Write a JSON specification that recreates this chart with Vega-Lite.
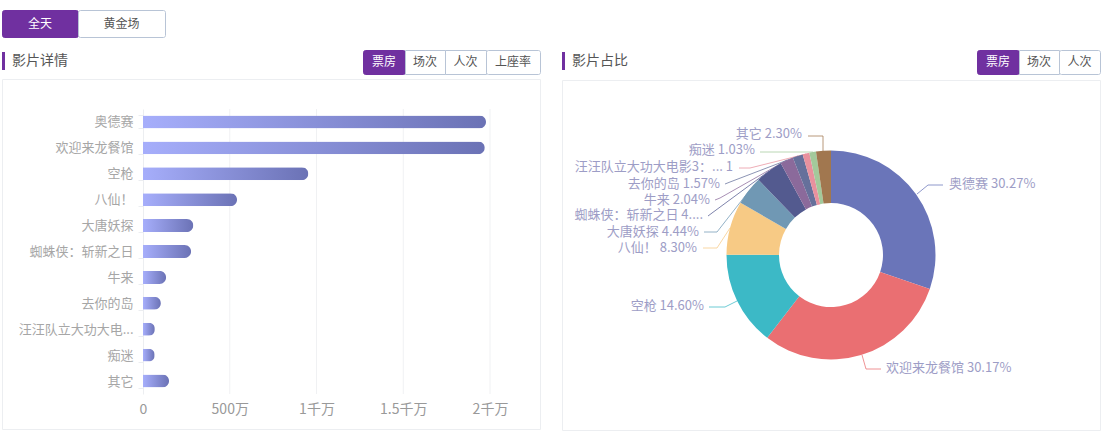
{
  "$schema": "https://vega.github.io/schema/vega-lite/v6.json",
  "background": "white",
  "padding": {"left": 1, "top": 9, "right": 0, "bottom": 0},
  "config": {
    "font": "Noto Sans CJK SC",
    "view": {"stroke": null},
    "text": {"font": "Noto Sans CJK SC"}
  },
  "datasets": {
    "films": [
      {"rank": 1, "film": "奥德赛", "axis_name": "奥德赛", "box_office": 19770000, "label": "奥德赛 30.27%"},
      {"rank": 2, "film": "欢迎来龙餐馆", "axis_name": "欢迎来龙餐馆", "box_office": 19700000, "label": "欢迎来龙餐馆 30.17%"},
      {"rank": 3, "film": "空枪", "axis_name": "空枪", "box_office": 9530000, "label": "空枪 14.60%"},
      {"rank": 4, "film": "八仙！", "axis_name": "八仙！", "box_office": 5420000, "label": "八仙！ 8.30%"},
      {"rank": 5, "film": "大唐妖探", "axis_name": "大唐妖探", "box_office": 2900000, "label": "大唐妖探 4.44%"},
      {"rank": 6, "film": "蜘蛛侠：斩新之日", "axis_name": "蜘蛛侠：斩新之日", "box_office": 2770000, "label": "蜘蛛侠：斩新之日 4...."},
      {"rank": 7, "film": "牛来", "axis_name": "牛来", "box_office": 1330000, "label": "牛来 2.04%"},
      {"rank": 8, "film": "去你的岛", "axis_name": "去你的岛", "box_office": 1030000, "label": "去你的岛 1.57%"},
      {"rank": 9, "film": "汪汪队立大功大电影3", "axis_name": "汪汪队立大功大电...", "box_office": 680000, "label": "汪汪队立大功大电影3：... 1"},
      {"rank": 10, "film": "痴迷", "axis_name": "痴迷", "box_office": 670000, "label": "痴迷 1.03%"},
      {"rank": 11, "film": "其它", "axis_name": "其它", "box_office": 1500000, "label": "其它 2.30%"}
    ],
    "leaders": [
      {"film": "奥德赛", "seq": 1}, {"film": "奥德赛", "seq": 2}, {"film": "奥德赛", "seq": 3},
      {"film": "欢迎来龙餐馆", "seq": 4}, {"film": "欢迎来龙餐馆", "seq": 5}, {"film": "欢迎来龙餐馆", "seq": 6},
      {"film": "空枪", "seq": 7}, {"film": "空枪", "seq": 8}, {"film": "空枪", "seq": 9},
      {"film": "八仙！", "seq": 10}, {"film": "八仙！", "seq": 11}, {"film": "八仙！", "seq": 12},
      {"film": "大唐妖探", "seq": 13}, {"film": "大唐妖探", "seq": 14}, {"film": "大唐妖探", "seq": 15},
      {"film": "蜘蛛侠：斩新之日", "seq": 16}, {"film": "蜘蛛侠：斩新之日", "seq": 17}, {"film": "蜘蛛侠：斩新之日", "seq": 18},
      {"film": "牛来", "seq": 19}, {"film": "牛来", "seq": 20}, {"film": "牛来", "seq": 21},
      {"film": "去你的岛", "seq": 22}, {"film": "去你的岛", "seq": 23}, {"film": "去你的岛", "seq": 24},
      {"film": "汪汪队立大功大电影3", "seq": 25}, {"film": "汪汪队立大功大电影3", "seq": 26}, {"film": "汪汪队立大功大电影3", "seq": 27},
      {"film": "痴迷", "seq": 28}, {"film": "痴迷", "seq": 29}, {"film": "痴迷", "seq": 30},
      {"film": "其它", "seq": 31}, {"film": "其它", "seq": 32}, {"film": "其它", "seq": 33}
    ],
    "ticks": [{"v": 0}, {"v": 5000000}, {"v": 10000000}, {"v": 15000000}, {"v": 20000000}]
  },
  "spacing": 11,
  "vconcat": [
    {
      "bounds": "flush",
      "spacing": 0,
      "hconcat": [
        {
          "width": 76, "height": 27,
          "view": {"fill": "#7030a0", "stroke": "#7030a0", "cornerRadius": 2},
          "data": {"values": [{"name": "全天"}]},
          "mark": {"type": "text", "fontSize": 12, "color": "white"},
          "encoding": {"text": {"field": "name"}}
        },
        {
          "width": 87, "height": 27,
          "view": {"fill": "white", "stroke": "#b8c4d6", "cornerRadius": 2},
          "data": {"values": [{"name": "黄金场"}]},
          "mark": {"type": "text", "fontSize": 12, "color": "#555555"},
          "encoding": {"text": {"field": "name"}}
        }
      ]
    },
    {
      "spacing": 20,
      "hconcat": [
        {
          "spacing": -3,
          "vconcat": [
            {
              "bounds": "flush",
              "spacing": 0,
              "hconcat": [
                {
                  "width": 361, "height": 24,
                  "data": {"values": [{"title": "影片详情"}]},
                  "layer": [
                    {
                      "mark": {"type": "rect", "color": "#7030a0"},
                      "encoding": {
                        "x": {"field": "title", "type": "nominal", "axis": null, "scale": {"range": [0, 3], "paddingInner": 0, "paddingOuter": 0}},
                        "y": {"field": "title", "type": "nominal", "axis": null, "scale": {"range": [2, 20], "paddingInner": 0, "paddingOuter": 0}}
                      }
                    },
                    {
                      "mark": {"type": "text", "align": "left", "dx": 8.5, "fontSize": 14, "color": "#555555"},
                      "encoding": {
                        "x": {"field": "title", "type": "nominal", "axis": null},
                        "y": {"field": "title", "type": "nominal", "axis": null},
                        "text": {"field": "title"}
                      }
                    }
                  ]
                },
                {
                  "width": 42, "height": 24,
                  "view": {"fill": "#7030a0", "stroke": "#7030a0", "cornerRadius": 2},
                  "data": {"values": [{"name": "票房"}]},
                  "mark": {"type": "text", "fontSize": 12, "color": "white"},
                  "encoding": {"text": {"field": "name"}}
                },
                {
                  "width": 40, "height": 24,
                  "view": {"fill": "white", "stroke": "#b8c4d6"},
                  "data": {"values": [{"name": "场次"}]},
                  "mark": {"type": "text", "fontSize": 12, "color": "#555555"},
                  "encoding": {"text": {"field": "name"}}
                },
                {
                  "width": 41, "height": 24,
                  "view": {"fill": "white", "stroke": "#b8c4d6"},
                  "data": {"values": [{"name": "人次"}]},
                  "mark": {"type": "text", "fontSize": 12, "color": "#555555"},
                  "encoding": {"text": {"field": "name"}}
                },
                {
                  "width": 54, "height": 24,
                  "view": {"fill": "white", "stroke": "#b8c4d6", "cornerRadius": 2},
                  "data": {"values": [{"name": "上座率"}]},
                  "mark": {"type": "text", "fontSize": 12, "color": "#555555"},
                  "encoding": {"text": {"field": "name"}}
                }
              ]
            },
            {
              "width": 538, "height": 350,
              "view": {"fill": "white", "stroke": "#eceef1"},
              "layer": [
                {
                  "data": {"name": "ticks"},
                  "transform": [{"filter": {"field": "v", "gt": 0}}],
                  "mark": {"type": "rule", "color": "#f0f1f3"},
                  "encoding": {
                    "x": {"field": "v", "type": "quantitative", "axis": null, "scale": {"domain": [0, 20000000], "range": [141, 488], "nice": false}},
                    "y": {"datum": 0, "type": "quantitative", "axis": null, "scale": {"domain": [0, 1], "range": [30, 315]}},
                    "y2": {"datum": 1}
                  }
                },
                {
                  "data": {"name": "films"},
                  "mark": {
                    "type": "bar",
                    "cornerRadiusEnd": 6.5,
                    "color": {
                      "gradient": "linear", "x1": 0, "y1": 0, "x2": 1, "y2": 0,
                      "stops": [{"offset": 0, "color": "#a6aefb"}, {"offset": 1, "color": "#6b72b5"}]
                    }
                  },
                  "encoding": {
                    "x": {
                      "field": "box_office", "type": "quantitative",
                      "scale": {"domain": [0, 20000000], "range": [141, 488], "nice": false},
                      "axis": {
                        "title": null, "offset": -32, "domain": false, "ticks": false, "grid": false,
                        "values": [0, 5000000, 10000000, 15000000, 20000000],
                        "labelExpr": "datum.value >= 10000000 ? datum.value / 10000000 + '千万' : datum.value > 0 ? datum.value / 10000 + '万' : '0'",
                        "labelColor": "#999999", "labelFontSize": 14, "labelPadding": 5, "labelFlush": false
                      }
                    },
                    "y": {
                      "field": "axis_name", "type": "nominal", "sort": {"field": "rank"},
                      "scale": {"range": [30, 315], "paddingInner": 0.5, "paddingOuter": 0.25},
                      "axis": {
                        "title": null, "offset": -141, "grid": false, "tickBand": "extent",
                        "domainColor": "#eceef1", "tickColor": "#eceef1", "tickSize": 5,
                        "labelColor": "#a6a6a6", "labelFontSize": 13, "labelPadding": 5, "labelLimit": 140
                      }
                    }
                  }
                }
              ],
              "resolve": {"scale": {"x": "independent", "y": "independent"}}
            }
          ]
        },
        {
          "spacing": 4,
          "vconcat": [
            {
              "bounds": "flush",
              "spacing": 0,
              "hconcat": [
                {
                  "width": 415, "height": 24,
                  "data": {"values": [{"title": "影片占比"}]},
                  "layer": [
                    {
                      "mark": {"type": "rect", "color": "#7030a0"},
                      "encoding": {
                        "x": {"field": "title", "type": "nominal", "axis": null, "scale": {"range": [0, 3], "paddingInner": 0, "paddingOuter": 0}},
                        "y": {"field": "title", "type": "nominal", "axis": null, "scale": {"range": [2, 20], "paddingInner": 0, "paddingOuter": 0}}
                      }
                    },
                    {
                      "mark": {"type": "text", "align": "left", "dx": 8.5, "fontSize": 14, "color": "#555555"},
                      "encoding": {
                        "x": {"field": "title", "type": "nominal", "axis": null},
                        "y": {"field": "title", "type": "nominal", "axis": null},
                        "text": {"field": "title"}
                      }
                    }
                  ]
                },
                {
                  "width": 42, "height": 24,
                  "view": {"fill": "#7030a0", "stroke": "#7030a0", "cornerRadius": 2},
                  "data": {"values": [{"name": "票房"}]},
                  "mark": {"type": "text", "fontSize": 12, "color": "white"},
                  "encoding": {"text": {"field": "name"}}
                },
                {
                  "width": 40, "height": 24,
                  "view": {"fill": "white", "stroke": "#b8c4d6"},
                  "data": {"values": [{"name": "场次"}]},
                  "mark": {"type": "text", "fontSize": 12, "color": "#555555"},
                  "encoding": {"text": {"field": "name"}}
                },
                {
                  "width": 41, "height": 24,
                  "view": {"fill": "white", "stroke": "#b8c4d6", "cornerRadius": 2},
                  "data": {"values": [{"name": "人次"}]},
                  "mark": {"type": "text", "fontSize": 12, "color": "#555555"},
                  "encoding": {"text": {"field": "name"}}
                }
              ]
            },
            {
              "width": 538, "height": 350,
              "view": {"fill": "white", "stroke": "#eceef1"},
              "layer": [
                {
                  "data": {"name": "leaders"},
                  "mark": {"type": "line", "strokeWidth": 1, "opacity": 0.75},
                  "encoding": {
                    "x": {
                      "field": "seq", "type": "quantitative", "axis": null,
                      "scale": {
                        "domain": [1,2,3,4,5,6,7,8,9,10,11,12,13,14,15,16,17,18,19,20,21,22,23,24,25,26,27,28,29,30,31,32,33],
                        "range": [355,366,381,300,304,319,175,163,147,168,155,141,187,155,142,207,150,146,225,158,153,236,168,163,244,188,177,251,215,198,261,261,246],
                        "nice": false, "zero": false
                      }
                    },
                    "y": {
                      "field": "seq", "type": "quantitative", "axis": null,
                      "scale": {
                        "domain": [1,2,3,4,5,6,7,8,9,10,11,12,13,14,15,16,17,18,19,20,21,22,23,24,25,26,27,28,29,30,31,32,33],
                        "range": [114,105,105,275,289,289,221,227,227,148,168,168,111,152,152,91,133,136,80,118,120,76,102,104,74,88,88,72,72,72,71,56,56],
                        "nice": false, "zero": false
                      }
                    },
                    "order": {"field": "seq"},
                    "color": {"field": "film", "type": "nominal", "legend": null}
                  }
                },
                {
                  "data": {"name": "films"},
                  "mark": {"type": "arc", "radius": 104.5, "innerRadius": 52},
                  "encoding": {
                    "theta": {"field": "box_office", "type": "quantitative"},
                    "order": {"field": "rank"},
                    "color": {
                      "field": "film", "type": "nominal", "legend": null,
                      "scale": {
                        "domain": ["奥德赛", "欢迎来龙餐馆", "空枪", "八仙！", "大唐妖探", "蜘蛛侠：斩新之日", "牛来", "去你的岛", "汪汪队立大功大电影3", "痴迷", "其它"],
                        "range": ["#6a75b9", "#ea6f72", "#3cb9c6", "#f7ca85", "#7098b4", "#535a8f", "#8b6a9b", "#66709b", "#e8919e", "#a3c99b", "#a1774f"]
                      }
                    }
                  }
                },
                {
                  "data": {"name": "films"},
                  "transform": [{"filter": {"field": "rank", "gte": 3}}],
                  "mark": {"type": "text", "align": "right", "fontSize": 13, "color": "#9d9dc6"},
                  "encoding": {
                    "x": {
                      "field": "rank", "type": "quantitative", "axis": null,
                      "scale": {"domain": [3,4,5,6,7,8,9,10,11], "range": [142,135,137,141,148,158,171,193,240], "nice": false, "zero": false}
                    },
                    "y": {
                      "field": "rank", "type": "quantitative", "axis": null,
                      "scale": {"domain": [3,4,5,6,7,8,9,10,11], "range": [226,168,152,135,120,104,87,70,54], "nice": false, "zero": false}
                    },
                    "text": {"field": "label"}
                  }
                },
                {
                  "data": {"name": "films"},
                  "transform": [{"filter": {"field": "rank", "lte": 2}}],
                  "mark": {"type": "text", "align": "left", "fontSize": 13, "color": "#9d9dc6"},
                  "encoding": {
                    "x": {
                      "field": "rank", "type": "quantitative", "axis": null,
                      "scale": {"domain": [1, 2], "range": [387, 324], "nice": false, "zero": false}
                    },
                    "y": {
                      "field": "rank", "type": "quantitative", "axis": null,
                      "scale": {"domain": [1, 2], "range": [104, 288], "nice": false, "zero": false}
                    },
                    "text": {"field": "label"}
                  }
                }
              ],
              "resolve": {"scale": {"x": "independent", "y": "independent"}}
            }
          ]
        }
      ]
    }
  ]
}
